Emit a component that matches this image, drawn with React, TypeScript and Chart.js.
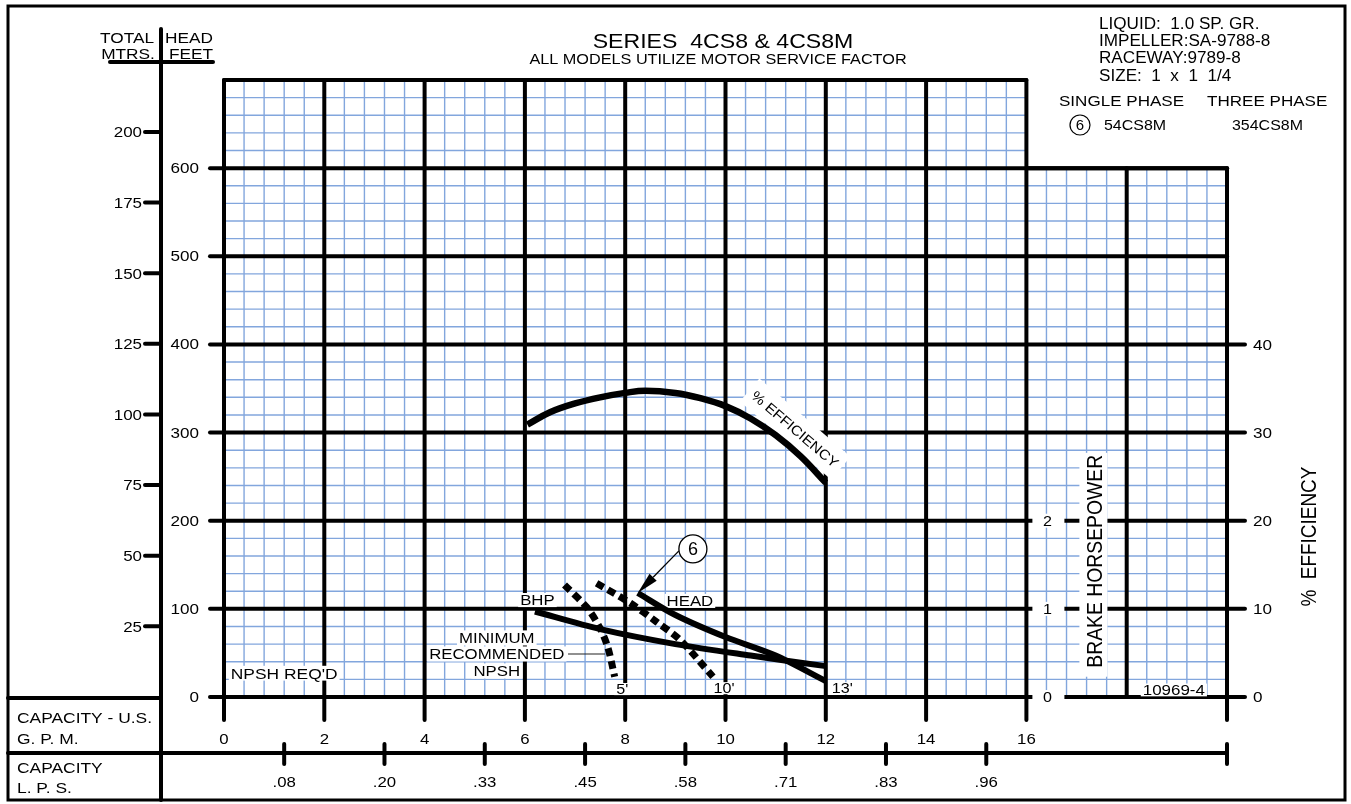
import { useEffect, useRef } from "react";
import { Chart, registerables } from "chart.js";

Chart.register(...registerables);

const W = 1351;
const H = 804;

// ---------- axes ----------
const gpmTicks = [0, 2, 4, 6, 8, 10, 12, 14, 16];
const gpmMax = 20;
const gpmCut = 16;
const gpmMinorStep = 0.4;
const feetTicks = [0, 100, 200, 300, 400, 500, 600];
const feetMax = 700;
const feetCutTop = 600;
const feetMinorStep = 20;
const metreTicks = [25, 50, 75, 100, 125, 150, 175, 200];
const metreMax = 218.4;
const effTicks = [0, 10, 20, 30, 40];
const effMax = 70;
const bhpTicks = [0, 1, 2];
const bhpMax = 7;
const lpsTickGpm = [1.2, 3.2, 5.2, 7.2, 9.2, 11.2, 13.2, 15.2];
const lpsLabels = [".08", ".20", ".33", ".45", ".58", ".71", ".83", ".96"];

// ---------- curves ----------
const effGpm = [6.05, 6.5, 7, 7.5, 8, 8.4, 9, 9.5, 10, 10.5, 11, 11.5, 12];
const effPct = [30.9, 32.3, 33.3, 34.0, 34.5, 34.75, 34.5, 33.9, 33.0, 31.6, 29.7, 27.3, 24.3];
const headGpm = [8.25, 9, 10, 11, 12];
const headFt = [118, 93, 68, 47, 18];
const bhpGpm = [6.2, 7.5, 9, 10.5, 12];
const bhpVal = [0.97, 0.77, 0.6, 0.47, 0.35];
const npsh5Gpm = [6.79, 7.23, 7.49, 7.65, 7.79];
const npsh5Ft = [127, 102, 79, 57, 23];
const npsh10Gpm = [7.43, 8.09, 8.63, 9.09, 9.75];
const npsh10Ft = [129, 107, 85, 65, 23];

// ---------- texts ----------
const titleText = "SERIES  4CS8 & 4CS8M";
const subtitleText = "ALL MODELS UTILIZE MOTOR SERVICE FACTOR";
const specLines = ["LIQUID:  1.0 SP. GR.", "IMPELLER:SA-9788-8", "RACEWAY:9789-8", "SIZE:  1  x  1  1/4"];
const modelNumber = "6";
const singlePhaseModel = "54CS8M";
const threePhaseModel = "354CS8M";

const FONT = '"Liberation Sans", Arial, Helvetica, sans-serif';
type Ctx = CanvasRenderingContext2D;

function seg(ctx: Ctx, x1: number, y1: number, x2: number, y2: number, lw = 4, color = "#000", cap: CanvasLineCap = "round") {
  ctx.save();
  ctx.beginPath();
  ctx.moveTo(x1, y1);
  ctx.lineTo(x2, y2);
  ctx.lineWidth = lw;
  ctx.strokeStyle = color;
  ctx.lineCap = cap;
  ctx.stroke();
  ctx.restore();
}

function label(
  ctx: Ctx,
  s: string,
  x: number,
  y: number,
  size: number,
  align: CanvasTextAlign = "center",
  sx = 1.15,
  rot = 0,
  box: number[] | null = null
) {
  ctx.save();
  ctx.translate(x, y);
  if (rot) ctx.rotate(rot);
  ctx.font = `${size}px ${FONT}`;
  const w = ctx.measureText(s).width * sx;
  if (box) {
    const [bw, bh] = box;
    const x0 = align === "center" ? -w / 2 : align === "right" ? -w : 0;
    ctx.fillStyle = "#fff";
    ctx.fillRect(x0 - bw, -size * 0.36 - bh, w + 2 * bw, size * 0.72 + 2 * bh);
  }
  ctx.scale(sx, 1);
  ctx.textAlign = align;
  ctx.textBaseline = "alphabetic";
  ctx.fillStyle = "#000";
  ctx.fillText(s, 0, size * 0.358);
  ctx.restore();
}

function rotBox(ctx: Ctx, cx: number, cy: number, w: number, h: number, rot: number) {
  ctx.save();
  ctx.translate(cx, cy);
  ctx.rotate(rot);
  ctx.fillStyle = "#fff";
  ctx.fillRect(-w / 2, -h / 2, w, h);
  ctx.restore();
}

const sheetPlugin = {
  id: "pumpSheet",
  beforeDraw(chart: any) {
    const ctx: Ctx = chart.ctx;
    ctx.save();
    ctx.fillStyle = "#fff";
    ctx.fillRect(0, 0, chart.width, chart.height);
    ctx.restore();
  },
  beforeDatasetsDraw(chart: any) {
    const ctx: Ctx = chart.ctx;
    const xs = chart.scales.x;
    const ys = chart.scales.y;
    const ym = chart.scales.yM;
    const ye = chart.scales.yEff;
    const yb = chart.scales.yBhp;
    const X = (v: number) => xs.getPixelForValue(v);
    const Y = (v: number) => ys.getPixelForValue(v);
    const L = X(0);
    const R = X(gpmMax);
    const B = Y(0);
    const tblX = L - 63;

    // ---- minor grid ----
    const blue = "#82a6dd";
    const nX = Math.round(gpmMax / gpmMinorStep);
    for (let i = 1; i < nX; i++) {
      if (i % 5 === 0) continue;
      const v = i * gpmMinorStep;
      const top = v < gpmCut ? feetMax : feetCutTop;
      seg(ctx, X(v), Y(top), X(v), B, 1.4, blue, "butt");
    }
    const nY = Math.round(feetMax / feetMinorStep);
    for (let j = 1; j < nY; j++) {
      if (j % 5 === 0) continue;
      const f = j * feetMinorStep;
      const right = f > feetCutTop ? gpmCut : gpmMax;
      seg(ctx, L, Y(f), X(right), Y(f), 1.4, blue, "butt");
    }

    // ---- major grid ----
    for (const v of gpmTicks) seg(ctx, X(v), Y(feetMax), X(v), B + 23, 4);
    seg(ctx, X(18), Y(feetCutTop), X(18), B, 4);
    seg(ctx, R, Y(feetCutTop), R, B + 23, 4);
    seg(ctx, L, Y(feetMax), X(gpmCut), Y(feetMax), 4);
    seg(ctx, X(gpmCut), Y(feetCutTop), R, Y(feetCutTop), 4);
    for (const f of feetTicks) seg(ctx, L - 14, Y(f), R, Y(f), 4);
    for (const e of effTicks) seg(ctx, R, ye.getPixelForValue(e), R + 18, ye.getPixelForValue(e), 4);

    // ---- left axes ----
    for (const f of feetTicks) label(ctx, String(f), L - 25, Y(f), 14, "right", 1.22);
    seg(ctx, tblX, 29, tblX, 800, 4);
    for (const m of metreTicks) {
      const py = ym.getPixelForValue(m);
      seg(ctx, tblX - 16, py, tblX, py, 4);
      label(ctx, String(m), tblX - 19, py, 15, "right", 1.13);
    }
    // header
    seg(ctx, tblX - 51, 62, tblX + 52, 62, 4);
    label(ctx, "TOTAL", tblX - 34, 38, 15, "center", 1.15);
    label(ctx, "HEAD", tblX + 28, 38, 15, "center", 1.15);
    label(ctx, "MTRS.", tblX - 33, 54, 15, "center", 1.15);
    label(ctx, "FEET", tblX + 30, 54, 15, "center", 1.15);

    // ---- right axes ----
    for (const e of effTicks) label(ctx, String(e), R + 26, ye.getPixelForValue(e), 15, "left", 1.14);
    const bx = X(gpmCut);
    for (const b of bhpTicks) {
      const py = yb.getPixelForValue(b);
      ctx.save();
      ctx.fillStyle = "#fff";
      ctx.fillRect(bx + 6, py - 7, 32, 14);
      ctx.restore();
      label(ctx, String(b), bx + 21, py, 14, "center", 1.15);
    }
    ctx.save();
    ctx.fillStyle = "#fff";
    ctx.fillRect(bx + 53, Y(277), 28, Y(23) - Y(277));
    ctx.restore();
    label(ctx, "BRAKE HORSEPOWER", bx + 68, Y(154), 22, "center", 0.88, -Math.PI / 2);
    label(ctx, "%  EFFICIENCY", R + 81, Y(182), 22, "center", 0.86, -Math.PI / 2);

    // ---- bottom capacity axes ----
    for (const v of gpmTicks) label(ctx, String(v), X(v), B + 42, 14, "center", 1.2);
    seg(ctx, 8, B + 1, tblX, B + 1, 4);
    seg(ctx, 8, B + 56, R, B + 56, 4);
    lpsTickGpm.forEach((g, i) => {
      seg(ctx, X(g), B + 47, X(g), B + 67, 4);
      label(ctx, lpsLabels[i], X(g), B + 85, 14, "center", 1.2);
    });
    seg(ctx, R, B + 47, R, B + 67, 4);
    label(ctx, "CAPACITY - U.S.", 17, B + 21, 15, "left", 1.16);
    label(ctx, "G. P. M.", 17, B + 42, 15, "left", 1.16);
    label(ctx, "CAPACITY", 17, B + 71, 15, "left", 1.16);
    label(ctx, "L. P. S.", 17, B + 91, 15, "left", 1.16);

    // ---- frame ----
    ctx.save();
    ctx.lineWidth = 3;
    ctx.strokeStyle = "#000";
    ctx.strokeRect(8, 6, 1337, 794);
    ctx.restore();

    // ---- titles ----
    label(ctx, titleText, 723, 40, 21, "center", 1.1);
    label(ctx, subtitleText, 718, 59, 14, "center", 1.16);
    specLines.forEach((s, i) => label(ctx, s, 1099, 23 + i * 17.3, 16, "left", 1.07));
    label(ctx, "SINGLE PHASE", 1059, 100, 15.5, "left", 1.1);
    label(ctx, "THREE PHASE", 1207, 100, 15.5, "left", 1.1);
    ctx.save();
    ctx.beginPath();
    ctx.arc(1080, 125, 10, 0, Math.PI * 2);
    ctx.lineWidth = 1.2;
    ctx.strokeStyle = "#000";
    ctx.stroke();
    ctx.restore();
    label(ctx, modelNumber, 1080, 125, 15, "center", 1.0);
    label(ctx, singlePhaseModel, 1104, 125, 14.5, "left", 1.1);
    label(ctx, threePhaseModel, 1232, 125, 14.5, "left", 1.1);

    // ---- in-plot annotations ----
    const effRot = (40.6 * Math.PI) / 180;
    const ecx = X(11.39);
    const ecy = Y(304);
    rotBox(ctx, ecx, ecy, 120, 30, effRot);
    label(ctx, "% EFFICIENCY", ecx, ecy, 14, "center", 1.1, effRot);

    label(ctx, "BHP", X(6.25), Y(110), 14, "center", 1.2, 0, [2, 2]);
    label(ctx, "HEAD", X(9.29), Y(109), 14, "center", 1.2, 0, [2, 2]);
    label(ctx, "MINIMUM", X(5.44), Y(67), 14, "center", 1.2, 0, [2, 2.5]);
    label(ctx, "RECOMMENDED", X(5.44), Y(48.8), 14, "center", 1.2, 0, [2, 2.5]);
    label(ctx, "NPSH", X(5.44), Y(29.5), 14, "center", 1.2, 0, [2, 2.5]);
    seg(ctx, X(6.86), Y(48.8), X(7.6), Y(48.8), 1.2, "#222", "butt");
    label(ctx, "NPSH REQ'D", X(1.2), Y(27), 15, "center", 1.16, 0, [2, 2]);
    label(ctx, "5'", X(7.94), Y(9), 14, "center", 1.15, 0, [2, 1]);
    label(ctx, "10'", X(9.97), Y(10), 14, "center", 1.15, 0, [2, 1]);
    label(ctx, "13'", X(12) + 6, Y(10), 14, "left", 1.15, 0, [1, 1]);
    label(ctx, "10969-4", X(18.94), Y(8), 15, "center", 1.13, 0, [2, 1]);
  },
  afterDatasetsDraw(chart: any) {
    const ctx: Ctx = chart.ctx;
    const xs = chart.scales.x;
    const ys = chart.scales.y;
    const cx = xs.getPixelForValue(9.35);
    const cy = ys.getPixelForValue(168);
    const tx = xs.getPixelForValue(headGpm[0]);
    const ty = ys.getPixelForValue(headFt[0]);
    const r = 14;
    ctx.save();
    ctx.beginPath();
    ctx.arc(cx, cy, r, 0, Math.PI * 2);
    ctx.fillStyle = "#fff";
    ctx.fill();
    ctx.lineWidth = 1.3;
    ctx.strokeStyle = "#000";
    ctx.stroke();
    ctx.restore();
    label(ctx, modelNumber, cx, cy, 18, "center", 1.0);
    const sx = cx - r;
    const sy = cy + 2;
    const ang = Math.atan2(ty - sy, tx - sx);
    const len = 22;
    const hw = 5;
    const bxp = tx - len * Math.cos(ang);
    const byp = ty - len * Math.sin(ang);
    seg(ctx, sx, sy, bxp, byp, 1.3, "#000", "butt");
    ctx.save();
    ctx.beginPath();
    ctx.moveTo(tx, ty);
    ctx.lineTo(bxp + hw * Math.sin(ang), byp - hw * Math.cos(ang));
    ctx.lineTo(bxp - hw * Math.sin(ang), byp + hw * Math.cos(ang));
    ctx.closePath();
    ctx.fillStyle = "#000";
    ctx.fill();
    ctx.restore();
  },
};

function pts(xs: number[], ys: number[]) {
  return xs.map((x, i) => ({ x, y: ys[i] }));
}

export default function App() {
  const ref = useRef<HTMLCanvasElement>(null);
  useEffect(() => {
    document.body.style.margin = "0";
    const canvas = ref.current;
    if (!canvas) return;
    const common = {
      showLine: true,
      borderColor: "#000",
      backgroundColor: "#000",
      pointRadius: 0,
      fill: false,
      borderCapStyle: "butt" as const,
    };
    const chart = new Chart(canvas, {
      type: "scatter",
      data: {
        datasets: [
          { ...common, label: "% Efficiency", data: pts(effGpm, effPct), yAxisID: "yEff", borderWidth: 6.5, tension: 0.4 },
          { ...common, label: "Head", data: pts(headGpm, headFt), yAxisID: "y", borderWidth: 6, tension: 0.3 },
          { ...common, label: "BHP", data: pts(bhpGpm, bhpVal), yAxisID: "yBhp", borderWidth: 6, tension: 0.3 },
          { ...common, label: "NPSH 5'", data: pts(npsh5Gpm, npsh5Ft), yAxisID: "y", borderWidth: 7, borderDash: [8, 5], tension: 0.3 },
          { ...common, label: "NPSH 10'", data: pts(npsh10Gpm, npsh10Ft), yAxisID: "y", borderWidth: 7, borderDash: [8, 5], tension: 0.3 },
        ],
      },
      options: {
        animation: false,
        responsive: false,
        maintainAspectRatio: false,
        events: [],
        layout: { padding: { left: 224, right: 124, top: 80, bottom: 107 } },
        plugins: { legend: { display: false }, tooltip: { enabled: false }, title: { display: false } },
        scales: {
          x: { type: "linear", min: 0, max: gpmMax, display: false },
          y: { type: "linear", axis: "y", min: 0, max: feetMax, display: false },
          yM: { type: "linear", axis: "y", min: 0, max: metreMax, display: false },
          yEff: { type: "linear", axis: "y", min: 0, max: effMax, display: false },
          yBhp: { type: "linear", axis: "y", min: 0, max: bhpMax, display: false },
        },
      } as any,
      plugins: [sheetPlugin],
    });
    return () => chart.destroy();
  }, []);
  return (
    <div style={{ position: "fixed", left: 0, top: 0, width: W, height: H, background: "#fff" }}>
      <canvas ref={ref} width={W} height={H} style={{ display: "block", width: W, height: H }} />
    </div>
  );
}
